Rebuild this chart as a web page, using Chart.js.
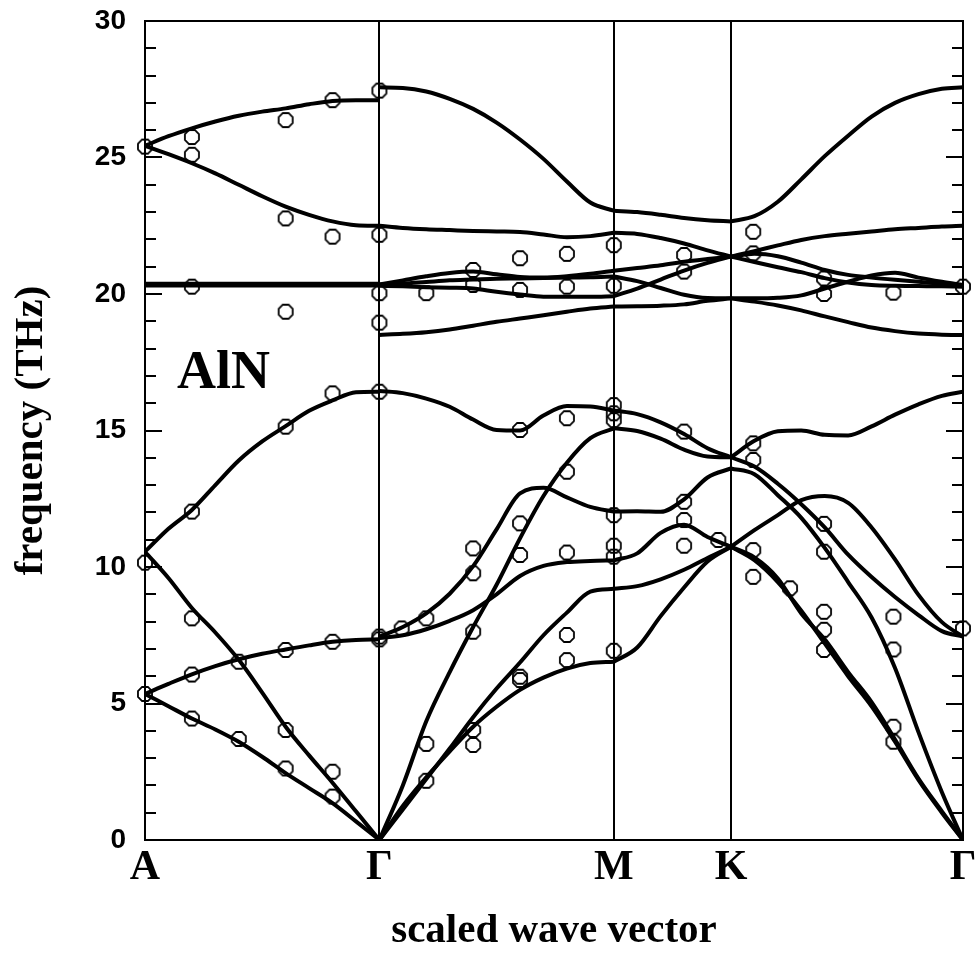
<!DOCTYPE html>
<html>
<head>
<meta charset="utf-8">
<title>AlN phonon dispersion</title>
<script src="https://cdn.jsdelivr.net/npm/chart.js@4.4.1/dist/chart.umd.min.js"></script>
<style>
  html, body { margin: 0; padding: 0; background: #fff; }
  #wrap { width: 980px; height: 959px; }
</style>
</head>
<body>
<div id="wrap"><canvas id="chart" width="980" height="959"></canvas></div>
<script>
// high-symmetry points along the scaled wave vector
const symPoints = [0, 1, 2, 2.5, 3.49];
const symLabels = ['A', 'Γ', 'M', 'K', 'Γ'];

// wave-vector grids for each piece of the path
const qAG = [0, 0.1, 0.2, 0.3, 0.4, 0.5, 0.6, 0.7, 0.8, 0.9, 1.0];
const qGM = [1.0, 1.1, 1.2, 1.3, 1.4, 1.5, 1.6, 1.7, 1.8, 1.9, 2.0];
const qMK = [2.0, 2.1, 2.2, 2.3, 2.4, 2.5];
const qKG = [2.5, 2.6, 2.7, 2.8, 2.9, 3.0, 3.1, 3.2, 3.3, 3.4, 3.49];

// calculated branches (THz), A -> Gamma
const bandsAG = [
  [25.43, 25.78, 26.07, 26.32, 26.53, 26.68, 26.8, 26.95, 27.07, 27.1, 27.1],
  [25.43, 25.12, 24.79, 24.42, 24.0, 23.58, 23.2, 22.9, 22.66, 22.52, 22.5],
  [20.31, 20.31, 20.31, 20.31, 20.31, 20.31, 20.31, 20.31, 20.31, 20.31, 20.31],
  [20.38, 20.38, 20.38, 20.38, 20.38, 20.38, 20.38, 20.38, 20.38, 20.38, 20.38],
  [10.56, 11.4, 12.09, 13.0, 13.9, 14.6, 15.16, 15.72, 16.1, 16.4, 16.42],
  [10.56, 9.6, 8.5, 7.6, 6.6, 5.4, 4.15, 3.1, 2.1, 1.05, 0],
  [5.35, 5.72, 6.07, 6.37, 6.62, 6.82, 6.98, 7.13, 7.26, 7.33, 7.35],
  [5.35, 4.9, 4.45, 4.05, 3.6, 3.05, 2.45, 1.9, 1.35, 0.68, 0]
];

// Gamma -> M
const bandsGM = [
  [27.57, 27.55, 27.42, 27.15, 26.78, 26.28, 25.66, 24.95, 24.12, 23.35, 23.05],
  [22.5, 22.42, 22.37, 22.34, 22.31, 22.29, 22.27, 22.18, 22.08, 22.12, 22.24],
  [20.35, 20.5, 20.65, 20.77, 20.82, 20.72, 20.62, 20.6, 20.65, 20.74, 20.85],
  [20.35, 20.38, 20.44, 20.5, 20.53, 20.56, 20.57, 20.59, 20.6, 20.61, 20.64],
  [20.3, 20.28, 20.25, 20.23, 20.2, 20.08, 19.98, 19.9, 19.9, 19.9, 19.92],
  [18.5, 18.54, 18.6, 18.7, 18.84, 18.98, 19.1, 19.22, 19.35, 19.47, 19.54],
  [16.45, 16.37, 16.17, 15.87, 15.4, 15.02, 15.0, 15.55, 15.9, 15.88, 15.73],
  [0, 2.0, 4.35, 6.15, 7.8, 9.35, 11.05, 12.6, 13.82, 14.72, 15.08],
  [7.45, 7.8, 8.3, 9.02, 10.03, 11.38, 12.7, 12.9, 12.55, 12.2, 12.03],
  [7.4, 7.5, 7.72, 8.03, 8.42, 9.0, 9.67, 10.04, 10.18, 10.22, 10.24],
  [0, 1.12, 2.23, 3.35, 4.5, 5.55, 6.5, 7.5, 8.33, 9.1, 9.2],
  [0, 1.25, 2.3, 3.25, 4.15, 4.88, 5.5, 5.95, 6.28, 6.48, 6.53]
];

// M -> K
const bandsMK = [
  [23.05, 23.0, 22.9, 22.78, 22.7, 22.66],
  [22.24, 22.2, 22.05, 21.85, 21.6, 21.37],
  [20.85, 20.95, 21.05, 21.18, 21.28, 21.37],
  [20.64, 20.47, 20.22, 19.97, 19.85, 19.84],
  [19.92, 20.2, 20.53, 20.86, 21.14, 21.37],
  [19.54, 19.55, 19.57, 19.62, 19.75, 19.84],
  [15.73, 15.6, 15.3, 14.87, 14.35, 14.02],
  [15.08, 14.98, 14.7, 14.3, 14.05, 14.02],
  [12.03, 12.04, 12.02, 12.48, 13.28, 13.61],
  [10.24, 10.5, 11.25, 11.55, 11.1, 10.74],
  [9.2, 9.3, 9.55, 9.9, 10.33, 10.74],
  [6.53, 7.05, 8.2, 9.25, 10.2, 10.74]
];

// K -> Gamma
const bandsKG = [
  [22.66, 22.85, 23.38, 24.2, 25.05, 25.8, 26.5, 27.0, 27.32, 27.52, 27.57],
  [21.37, 21.57, 21.78, 21.98, 22.12, 22.21, 22.29, 22.37, 22.42, 22.47, 22.5],
  [21.37, 21.17, 20.98, 20.8, 20.58, 20.42, 20.33, 20.3, 20.29, 20.28, 20.27],
  [21.37, 21.47, 21.38, 21.15, 20.88, 20.7, 20.6, 20.52, 20.45, 20.37, 20.3],
  [19.84, 19.84, 19.86, 19.95, 20.2, 20.45, 20.68, 20.78, 20.6, 20.45, 20.33],
  [19.84, 19.72, 19.58, 19.4, 19.18, 18.97, 18.77, 18.64, 18.55, 18.51, 18.5],
  [14.02, 14.62, 14.97, 15.0, 14.84, 14.82, 15.15, 15.58, 15.96, 16.27, 16.42],
  [14.02, 13.68, 13.05, 12.3, 11.45, 10.45, 9.63, 8.9, 8.24, 7.65, 7.45],
  [10.74, 11.35, 11.9, 12.45, 12.6, 12.35, 11.45, 10.28, 8.98, 7.98, 7.45],
  [13.61, 13.4, 12.63, 11.8, 10.7, 9.45, 8.15, 6.3, 3.95, 1.75, 0],
  [10.74, 10.35, 9.58, 8.3, 7.35, 6.15, 5.05, 3.68, 2.25, 1.05, 0],
  [10.74, 10.25, 9.45, 8.4, 7.2, 6.0, 4.9, 3.6, 2.2, 1.0, 0]
];

// measured frequencies (open circles)
const expQ = [
  0, 0.2, 0.2, 0.6, 0.8, 1.0, 0.6, 0.8, 1.0, 0.2, 0.6, 1.0, 1.0,
  0.2, 0.6, 0.8, 1.0, 0, 0.2, 0.2, 0.4, 0.6, 0.8, 1.0,
  0, 0.2, 0.4, 0.6, 0.6, 0.8, 0.8,
  1.2, 1.4, 1.4, 1.6, 1.6, 1.8, 1.8, 2.0, 2.0,
  1.6, 1.8, 2.0, 2.0, 2.0, 1.8,
  1.4, 1.4, 1.6, 1.6, 1.8, 2.0, 2.0, 2.0,
  1.2, 1.095, 1.0, 1.4, 1.8, 1.8, 2.0, 1.6, 1.6, 1.2, 1.2, 1.4, 1.4,
  2.3, 2.3, 2.3, 2.3, 2.3, 2.3, 2.446,
  2.595, 2.595, 2.595, 2.595, 2.595, 2.595, 2.752,
  2.897, 2.897, 2.897, 2.897, 2.897, 2.897, 2.897,
  3.193, 3.193, 3.193, 3.193, 3.193, 3.49, 3.49
];
const expF = [
  25.4, 25.75, 25.1, 26.37, 27.1, 27.45, 22.77, 22.1, 22.17, 20.27, 19.35, 20.03, 18.95,
  12.03, 15.14, 16.36, 16.42, 10.16, 8.12, 6.06, 6.53, 6.96, 7.26, 7.35,
  5.35, 4.45, 3.7, 4.03, 2.62, 2.5, 1.59,
  20.03, 20.88, 20.33, 21.31, 20.15, 21.47, 20.27, 21.79, 20.3,
  15.02, 15.45, 15.93, 15.63, 15.38, 13.49,
  10.68, 9.77, 11.6, 10.44, 10.53, 11.9, 10.78, 10.38,
  8.12, 7.75, 7.45, 7.63, 7.51, 6.59, 6.93, 5.86, 5.98, 3.52, 2.17, 3.48, 4.03,
  21.43, 20.82, 14.96, 12.39, 11.72, 10.78, 10.99,
  22.28, 21.49, 14.53, 13.92, 10.62, 9.64, 9.22,
  20.57, 20.0, 11.58, 10.56, 8.36, 7.7, 6.96,
  20.05, 8.18, 6.98, 4.15, 3.6, 20.27, 7.75
];

// the plotted symbols are small octagons, not true circles
function octagonMarker(size, lw) {
  const c = document.createElement('canvas');
  c.width = size;
  c.height = size;
  const g = c.getContext('2d');
  const r = size / 2 - lw / 2 - 0.5;
  g.strokeStyle = '#000';
  g.lineWidth = lw;
  g.beginPath();
  for (let k = 0; k < 8; k++) {
    const ang = Math.PI / 8 + k * Math.PI / 4;
    const px = size / 2 + r * Math.cos(ang);
    const py = size / 2 + r * Math.sin(ang);
    if (k === 0) g.moveTo(px, py); else g.lineTo(px, py);
  }
  g.closePath();
  g.stroke();
  return c;
}

function branch(qs, fs) {
  return {
    type: 'line',
    data: qs.map((q, i) => ({ x: q, y: fs[i] })),
    borderColor: '#000',
    borderWidth: 4,
    pointRadius: 0,
    cubicInterpolationMode: 'monotone',
    fill: false
  };
}

const datasets = [];
bandsAG.forEach(b => datasets.push(branch(qAG, b)));
bandsGM.forEach(b => datasets.push(branch(qGM, b)));
bandsMK.forEach(b => datasets.push(branch(qMK, b)));
bandsKG.forEach(b => datasets.push(branch(qKG, b)));

datasets.push({
  type: 'scatter',
  data: expQ.map((q, i) => ({ x: q, y: expF[i] })),
  showLine: false,
  pointStyle: octagonMarker(18, 1.8),
  pointRadius: 9,
  clip: false
});

// frame, inward ticks on both sides and the AlN label
const frameTicks = {
  id: 'frameTicks',
  afterDatasetsDraw(chart) {
    const { ctx, chartArea: a, scales: { x, y } } = chart;
    ctx.save();
    ctx.strokeStyle = '#000';
    ctx.lineWidth = 2;
    ctx.strokeRect(a.left, a.top, a.right - a.left, a.bottom - a.top);
    ctx.beginPath();
    for (let v = 0; v <= 30; v++) {
      const py = Math.round(y.getPixelForValue(v));
      const len = v % 5 === 0 ? 17 : 11;
      ctx.moveTo(a.left, py);
      ctx.lineTo(a.left + len, py);
      ctx.moveTo(a.right, py);
      ctx.lineTo(a.right - len, py);
    }
    ctx.stroke();

    ctx.fillStyle = '#000';
    ctx.font = 'bold 54px "Liberation Serif"';
    ctx.textBaseline = 'alphabetic';
    ctx.textAlign = 'left';
    ctx.fillText('AlN', x.getPixelForValue(0.137), y.getPixelForValue(16.56));
    ctx.restore();
  }
};

new Chart(document.getElementById('chart'), {
  type: 'line',
  data: { datasets },
  options: {
    responsive: false,
    devicePixelRatio: 1,
    animation: false,
    layout: { padding: { top: 21, right: 17, left: 0, bottom: 0 } },
    plugins: { legend: { display: false }, tooltip: { enabled: false } },
    scales: {
      x: {
        type: 'linear',
        min: 0,
        max: 3.49,
        afterBuildTicks: s => { s.ticks = symPoints.map(v => ({ value: v })); },
        afterFit: s => { s.height = 119; },
        ticks: {
          autoSkip: false,
          maxRotation: 0,
          padding: 3,
          color: '#000',
          font: { family: 'Liberation Serif', size: 42, weight: 'bold' },
          callback: (v, i) => symLabels[i]
        },
        grid: { color: '#000', lineWidth: 2, drawTicks: false },
        border: { display: true, color: '#000', width: 2 },
        title: {
          display: true,
          text: 'scaled wave vector',
          color: '#000',
          font: { family: 'Liberation Serif', size: 41, weight: 'bold' },
          padding: { top: 0, bottom: 3 }
        }
      },
      y: {
        min: 0,
        max: 30,
        afterFit: s => {
          s.width = 145;
          s.paddingTop = 0;
          s.paddingBottom = 0;
        },
        ticks: {
          stepSize: 5,
          padding: 19,
          color: '#000',
          font: { family: 'Liberation Sans', size: 28, weight: 'bold' }
        },
        grid: { display: false, drawTicks: false },
        border: { display: true, color: '#000', width: 2 },
        title: {
          display: true,
          text: 'frequency (THz)',
          color: '#000',
          font: { family: 'Liberation Serif', size: 41, weight: 'bold' },
          padding: { top: 7, bottom: 0 }
        }
      }
    }
  },
  plugins: [frameTicks]
});
</script>
</body>
</html>
